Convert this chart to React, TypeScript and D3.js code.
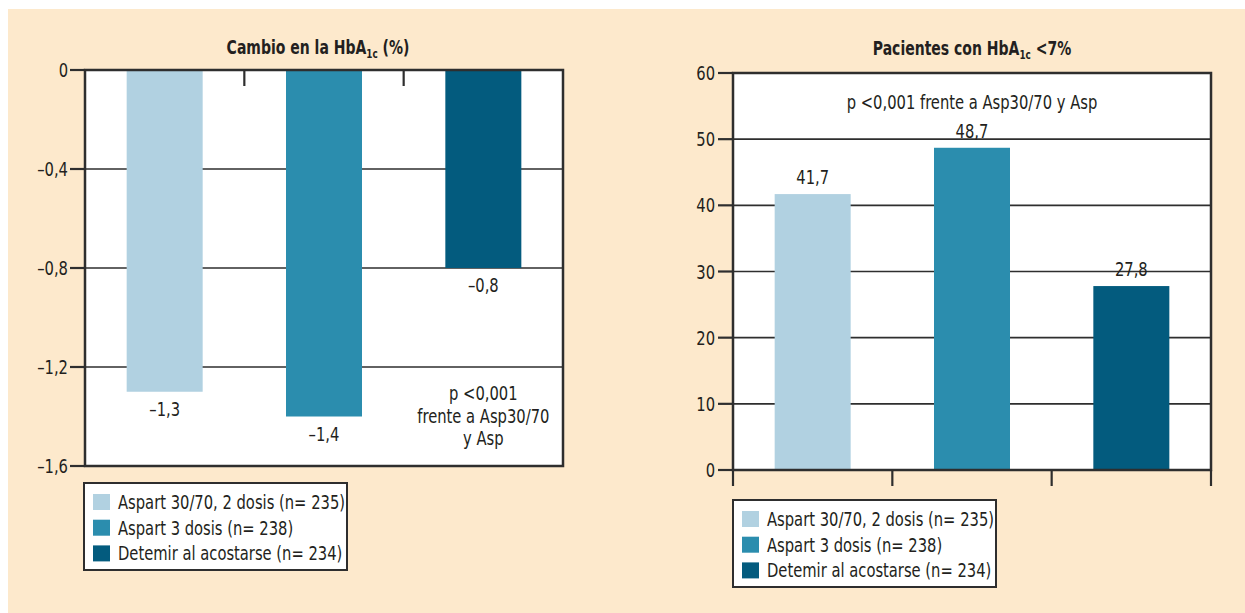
import React from "react";
import * as d3 from "d3";

const categories = ["Aspart 30/70, 2 dosis (n= 235)", "Aspart 3 dosis (n= 238)", "Detemir al acostarse (n= 234)"];
const colors = ["#B1D1E1", "#2B8DAE", "#035B7E"];
const hba1cChange = [-1.3, -1.4, -0.8];
const hba1cLabels = ["–1,3", "–1,4", "–0,8"];
const leftTicks = [0, -0.4, -0.8, -1.2, -1.6];
const leftTickLabels = ["0", "–0,4", "–0,8", "–1,2", "–1,6"];
const patientsBelow7 = [41.7, 48.7, 27.8];
const patientsLabels = ["41,7", "48,7", "27,8"];
const rightTicks = [0, 10, 20, 30, 40, 50, 60];
const rightTickLabels = ["0", "10", "20", "30", "40", "50", "60"];
const pTextLeft = ["p <0,001", "frente a Asp30/70", "y Asp"];
const pTextRight = "p <0,001 frente a Asp30/70 y Asp";

const FONT = "'DejaVu Sans Condensed', 'DejaVu Sans', sans-serif";
const INK = "#231f20";
const BORDER = "#2e2e2e";
const SX = 0.82;
const FS = 20;

function T({ x, y, anchor = "start", bold = false, size = FS, children }: any) {
  return (
    <text
      transform={`translate(${x},${y}) scale(${SX},1)`}
      textAnchor={anchor}
      fontSize={size}
      fontWeight={bold ? "bold" : "normal"}
      fill={INK}
      fontFamily={FONT}
    >
      {children}
    </text>
  );
}

function Legend({ x, y }: { x: number; y: number }) {
  const rowH = 25.7;
  return (
    <g>
      <rect x={x} y={y} width={263} height={87} fill="#fff" stroke={BORDER} strokeWidth={2} />
      {categories.map((c, i) => (
        <g key={c}>
          <rect x={x + 9} y={y + 11 + i * rowH} width={17} height={16} fill={colors[i]} />
          <T x={x + 34} y={y + 26 + i * rowH}>{c}</T>
        </g>
      ))}
    </g>
  );
}

export default function App() {
  // Left chart
  const L = { x0: 85, x1: 563, y0: 70, y1: 466 };
  const xL = d3.scaleBand<string>().domain(categories).range([L.x0, L.x1]).paddingInner(0.523).paddingOuter(0.2615);
  const yL = d3.scaleLinear().domain([0, -1.6]).range([L.y0, L.y1]);
  const xLsec = d3.scaleBand<string>().domain(categories).range([L.x0, L.x1]);

  // Right chart
  const R = { x0: 733, x1: 1211, y0: 73, y1: 470 };
  const xR = d3.scaleBand<string>().domain(categories).range([R.x0, R.x1]).paddingInner(0.523).paddingOuter(0.2615);
  const yR = d3.scaleLinear().domain([0, 60]).range([R.y1, R.y0]);
  const xRsec = d3.scaleBand<string>().domain(categories).range([R.x0, R.x1]);

  return (
    <svg width={1245} height={613} style={{ position: "absolute", left: 0, top: 0 }} fontFamily={FONT}>
      <rect x={0} y={0} width={1245} height={613} fill="#fff" />
      <rect x={8} y={9} width={1237} height={604} fill="#FDE9CC" />

      {/* LEFT CHART */}
      <T x={318} y={54} anchor="middle" bold size={19}>
        Cambio en la HbA<tspan fontSize={12} dy={4}>1c</tspan><tspan dy={-4}> (%)</tspan>
      </T>
      <rect x={L.x0} y={L.y0} width={L.x1 - L.x0} height={L.y1 - L.y0} fill="#fff" />
      {leftTicks.slice(1, -1).map((t) => (
        <line key={t} x1={L.x0} x2={L.x1} y1={yL(t)} y2={yL(t)} stroke={BORDER} strokeWidth={1.6} />
      ))}
      {categories.map((c, i) => (
        <rect key={c} x={xL(c)} y={yL(0)} width={xL.bandwidth()} height={yL(hba1cChange[i]) - yL(0)} fill={colors[i]} />
      ))}
      {categories.slice(1).map((c) => (
        <line key={c} x1={xLsec(c)} x2={xLsec(c)} y1={L.y0} y2={L.y0 + 16} stroke={BORDER} strokeWidth={2.2} />
      ))}
      <rect x={L.x0} y={L.y0} width={L.x1 - L.x0} height={L.y1 - L.y0} fill="none" stroke={BORDER} strokeWidth={2.5} />
      {leftTicks.map((t, i) => (
        <g key={t}>
          <line x1={L.x0 - 15} x2={L.x0} y1={yL(t)} y2={yL(t)} stroke={BORDER} strokeWidth={2.2} />
          <T x={L.x0 - 17} y={yL(t) + 7} anchor="end">{leftTickLabels[i]}</T>
        </g>
      ))}
      {categories.map((c, i) => (
        <T key={c} x={xL(c)! + xL.bandwidth() / 2} y={yL(hba1cChange[i]) + 24} anchor="middle">
          {hba1cLabels[i]}
        </T>
      ))}
      {pTextLeft.map((s, i) => (
        <T key={s} x={xLsec(categories[2])! + xLsec.bandwidth() / 2} y={400 + i * 22.5} anchor="middle">{s}</T>
      ))}
      <Legend x={84} y={483} />

      {/* RIGHT CHART */}
      <T x={972} y={55} anchor="middle" bold size={19}>
        Pacientes con HbA<tspan fontSize={12} dy={4}>1c</tspan><tspan dy={-4}> &lt;7%</tspan>
      </T>
      <rect x={R.x0} y={R.y0} width={R.x1 - R.x0} height={R.y1 - R.y0} fill="#fff" />
      {rightTicks.slice(1, -1).map((t) => (
        <line key={t} x1={R.x0} x2={R.x1} y1={yR(t)} y2={yR(t)} stroke={BORDER} strokeWidth={1.6} />
      ))}
      {categories.map((c, i) => (
        <rect key={c} x={xR(c)} y={yR(patientsBelow7[i])} width={xR.bandwidth()} height={yR(0) - yR(patientsBelow7[i])} fill={colors[i]} />
      ))}
      <rect x={R.x0} y={R.y0} width={R.x1 - R.x0} height={R.y1 - R.y0} fill="none" stroke={BORDER} strokeWidth={2.5} />
      {[...categories.map((c) => xRsec(c)!), R.x1].map((xv, i) => (
        <line key={i} x1={xv} x2={xv} y1={R.y1} y2={R.y1 + 16} stroke={BORDER} strokeWidth={2.2} />
      ))}
      {rightTicks.map((t, i) => (
        <g key={t}>
          <line x1={R.x0 - 15} x2={R.x0} y1={yR(t)} y2={yR(t)} stroke={BORDER} strokeWidth={2.2} />
          <T x={R.x0 - 18} y={yR(t) + 7} anchor="end">{rightTickLabels[i]}</T>
        </g>
      ))}
      {categories.map((c, i) => (
        <T key={c} x={xR(c)! + xR.bandwidth() / 2} y={yR(patientsBelow7[i]) - 10} anchor="middle">
          {patientsLabels[i]}
        </T>
      ))}
      <T x={972} y={109} anchor="middle">{pTextRight}</T>
      <Legend x={733} y={500} />
    </svg>
  );
}
